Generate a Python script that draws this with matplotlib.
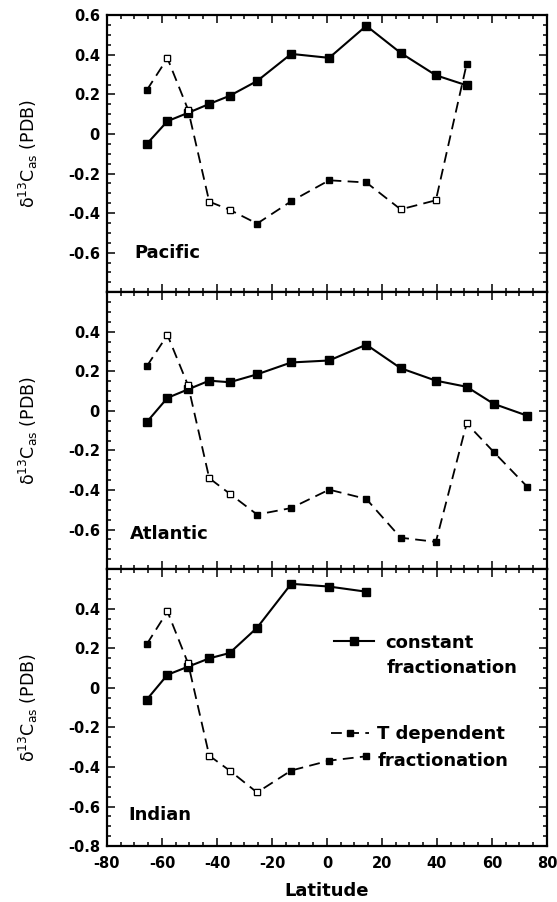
import matplotlib
matplotlib.use("Agg")
import matplotlib.pyplot as plt
from matplotlib.ticker import MultipleLocator

plt.rcParams['font.family'] = ['DejaVu Sans']
plt.rcParams['mathtext.default'] = 'regular'
plt.rcParams['axes.unicode_minus'] = False

# latitudes of the model points (deg)
lat = [-65.5, -58, -50.5, -42.8, -35.4, -25.4, -13.0, 0.8, 14.3, 26.8, 39.6, 50.8, 60.6, 72.8]

pac_const = [-0.05, 0.065, 0.107, 0.152, 0.193, 0.268, 0.405, 0.385, 0.547, 0.41, 0.297, 0.246]
pac_tdep = [0.222, 0.383, 0.123, -0.342, -0.383, -0.453, -0.34, -0.234, -0.245, -0.381, -0.335, 0.354]

atl_const = [-0.056, 0.066, 0.109, 0.153, 0.145, 0.185, 0.245, 0.255, 0.335, 0.216, 0.153, 0.122, 0.036, -0.024]
atl_tdep = [0.226, 0.384, 0.129, -0.34, -0.418, -0.524, -0.491, -0.398, -0.445, -0.641, -0.662, -0.063, -0.207, -0.383]

ind_const = [-0.059, 0.066, 0.107, 0.149, 0.176, 0.304, 0.526, 0.512, 0.486]
ind_tdep = [0.221, 0.386, 0.124, -0.343, -0.418, -0.529, -0.418, -0.368, -0.346]

oceans = ["Pacific", "Atlantic", "Indian"]
const_series = [pac_const, atl_const, ind_const]
tdep_series = [pac_tdep, atl_tdep, ind_tdep]
# markers that look open (hollow) in the scan
hollow = [[1, 2, 3, 4, 9, 10], [1, 2, 3, 4, 11], [1, 2, 3, 4, 5]]
ytick_sets = [[0.6, 0.4, 0.2, 0, -0.2, -0.4, -0.6],
              [0.4, 0.2, 0, -0.2, -0.4, -0.6],
              [0.4, 0.2, 0, -0.2, -0.4, -0.6, -0.8]]
xticks = [-80, -60, -40, -20, 0, 20, 40, 60, 80]

fig, axes = plt.subplots(3, 1, figsize=(5.57, 9.02), dpi=100, sharex=True)
fig.subplots_adjust(left=0.192, right=0.982, top=0.983, bottom=0.062, hspace=0)

label_pos = [(0.062, 0.143), (0.052, 0.126), (0.048, 0.114)]

for i, ax in enumerate(axes):
    c = const_series[i]
    t = tdep_series[i]
    x = lat[:len(c)]
    l1, = ax.plot(x, c, '-', color='black', lw=1.5, marker='s', ms=5.5,
                  mfc='black', mec='black')
    l2, = ax.plot(x, t, '--', color='black', lw=1.3, dashes=(6, 3.5), marker='s', ms=3.8,
                  mfc='black', mec='black')
    hx = [x[k] for k in hollow[i]]
    hy = [t[k] for k in hollow[i]]
    ax.plot(hx, hy, 's', ms=3.8, mfc='white', mec='black', mew=0.8, zorder=5)

    ax.set_xlim(-80, 80)
    ax.set_ylim(-0.8, 0.6)
    ax.set_xticks(xticks)
    ax.set_yticks(ytick_sets[i])
    ax.set_yticklabels(['0' if v == 0 else f'{v:g}' for v in ytick_sets[i]])
    ax.xaxis.set_minor_locator(MultipleLocator(5))
    ax.yaxis.set_minor_locator(MultipleLocator(0.05))
    ax.tick_params(which='both', direction='in', top=True, right=True, width=1.1)
    ax.tick_params(which='major', length=6, labelsize=10.5)
    ax.tick_params(axis='y', which='major', pad=5)
    ax.tick_params(axis='x', which='major', pad=7)
    ax.tick_params(which='minor', length=3)
    for lab in ax.get_yticklabels() + ax.get_xticklabels():
        lab.set_fontweight('bold')
    for s in ax.spines.values():
        s.set_linewidth(1.6)
    ax.set_ylabel(r'$\delta^{13}$C$_{as}$ (PDB)', fontsize=12.5)
    ax.yaxis.set_label_coords(-0.152, 0.5)
    ax.text(label_pos[i][0], label_pos[i][1], oceans[i], transform=ax.transAxes,
            fontsize=13, fontweight='bold', va='center', ha='left')

axes[-1].set_xlabel('Latitude', fontsize=13, fontweight='bold', labelpad=8)

# legend in the Indian panel: handle beside the first line of each label
ax = axes[-1]
leg_font = {'size': 13, 'weight': 'bold'}
leg1 = ax.legend(handles=[l1], labels=['constant'], loc='center left',
                 bbox_to_anchor=(0.516, 0.735), frameon=False, borderpad=0, borderaxespad=0,
                 handlelength=2.2, handletextpad=0.65, prop=leg_font)
ax.add_artist(leg1)
ax.legend(handles=[l2], labels=['T dependent'], loc='center left',
          bbox_to_anchor=(0.51, 0.405), frameon=False, borderpad=0, borderaxespad=0,
          handlelength=2.1, handletextpad=0.45, prop=leg_font)
ax.text(0.636, 0.644, 'fractionation', transform=ax.transAxes, va='center', ha='left',
        fontsize=13, fontweight='bold')
ax.text(0.616, 0.306, 'fractionation', transform=ax.transAxes, va='center', ha='left',
        fontsize=13, fontweight='bold')

fig.savefig('out.png', dpi=100)
